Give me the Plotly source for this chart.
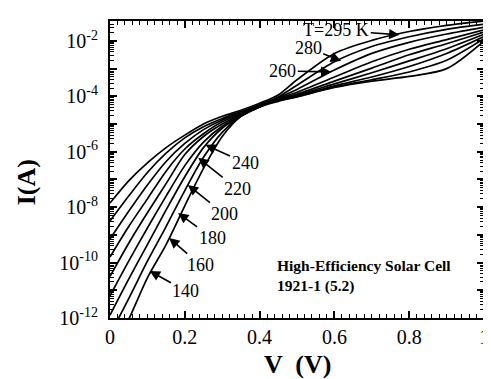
import plotly.graph_objects as go

# ---- data ----
V_GRID = [0, 0.05, 0.1, 0.15, 0.2, 0.25, 0.3, 0.35, 0.4, 0.45, 0.5, 0.6, 0.7, 0.8, 0.9, 1.0]

temperatures_K = [295, 280, 260, 240, 220, 200, 180, 160, 140]

log10_I_295K = [-7.85, -7.05, -6.4, -5.85, -5.4, -5.0, -4.72, -4.5, -4.25, -3.95, -3.4, -2.45, -1.98, -1.66, -1.44, -1.28]
log10_I_280K = [-8.5, -7.6, -6.75, -6.05, -5.5, -5.1, -4.8, -4.55, -4.3, -4.02, -3.6, -2.75, -2.2, -1.85, -1.58, -1.4]
log10_I_260K = [-9.15, -8.15, -7.2, -6.35, -5.7, -5.2, -4.85, -4.6, -4.32, -4.05, -3.75, -3.05, -2.45, -2.05, -1.75, -1.5]
log10_I_240K = [-9.8, -8.7, -7.7, -6.7, -5.9, -5.35, -4.92, -4.63, -4.34, -4.08, -3.85, -3.3, -2.75, -2.3, -1.95, -1.6]
log10_I_220K = [-10.5, -9.3, -8.2, -7.15, -6.1, -5.45, -5.0, -4.66, -4.36, -4.1, -3.92, -3.45, -2.98, -2.5, -2.1, -1.68]
log10_I_200K = [-11.2, -9.95, -8.75, -7.6, -6.5, -5.65, -5.08, -4.7, -4.37, -4.12, -3.96, -3.55, -3.15, -2.72, -2.28, -1.76]
log10_I_180K = [-11.9, -10.6, -9.35, -8.1, -6.9, -5.85, -5.15, -4.72, -4.38, -4.14, -3.99, -3.62, -3.3, -2.92, -2.45, -1.84]
log10_I_160K = [-12.6, -11.3, -9.95, -8.7, -7.4, -6.2, -5.3, -4.72, -4.38, -4.16, -4.01, -3.66, -3.4, -3.12, -2.7, -1.92]
log10_I_140K = [-13.4, -12.05, -10.55, -9.35, -7.95, -6.6, -5.45, -4.72, -4.38, -4.18, -4.02, -3.68, -3.45, -3.28, -3.0, -2.0]

curves = [log10_I_295K, log10_I_280K, log10_I_260K, log10_I_240K, log10_I_220K,
          log10_I_200K, log10_I_180K, log10_I_160K, log10_I_140K]

x_tick_vals = [0, 0.1, 0.2, 0.3, 0.4, 0.5, 0.6, 0.7, 0.8, 0.9, 1.0]
x_tick_text = ["0", "", "0.2", "", "0.4", "", "0.6", "", "0.8", "", "1"]
y_tick_exps = [-12, -11, -10, -9, -8, -7, -6, -5, -4, -3, -2, -1]
y_tick_text = ["10<sup>%d</sup>" % e if e % 2 == 0 else "" for e in y_tick_exps]

# temperature labels: text, label position (V, log10 I), arrow tip (V, log10 I)
label_texts = ["T=295 K", "280", "260", "240", "220", "200", "180", "160", "140"]
label_pos = [(0.605, -1.61), (0.53, -2.25), (0.462, -3.08), (0.361, -6.40), (0.34, -7.34),
             (0.306, -8.25), (0.273, -9.11), (0.242, -10.09), (0.203, -11.03)]
arrow_tip = [(0.774, -1.78), (0.618, -2.72), (0.592, -3.12), (0.255, -5.75), (0.236, -6.22),
             (0.208, -7.20), (0.182, -8.21), (0.158, -9.11), (0.106, -10.30)]

SERIF = "Liberation Serif"

fig = go.Figure()
for T, ys in zip(temperatures_K, curves):
    fig.add_trace(go.Scatter(
        x=V_GRID, y=[10 ** v for v in ys], mode="lines", name=f"{T} K",
        line=dict(color="black", width=1.7, shape="spline", smoothing=0.8),
        showlegend=False,
    ))

annotations = []
for txt, (lx, ly), (tx, ty) in zip(label_texts, label_pos, arrow_tip):
    annotations.append(dict(
        x=tx, y=ty, ax=lx, ay=ly, xref="x", yref="y", axref="x", ayref="y",
        text=txt, showarrow=True, arrowhead=2, arrowsize=1.3, arrowwidth=1.6,
        arrowcolor="black", font=dict(family=SERIF, size=18, color="black"),
    ))

annotations.append(dict(
    x=0.44, y=-10.5, xref="x", yref="y", xanchor="left", yanchor="middle",
    text="<b>High-Efficiency Solar Cell</b><br><b>1921-1 (5.2)</b>", align="left",
    showarrow=False, font=dict(family=SERIF, size=15.5, color="black"),
))
annotations.append(dict(
    x=0.5, y=-0.155, xref="paper", yref="paper", xanchor="center", yanchor="middle",
    text="<b>V  (V)</b>", showarrow=False, font=dict(family=SERIF, size=26, color="black"),
))
annotations.append(dict(
    x=-0.221, y=0.458, xref="paper", yref="paper", xanchor="center", yanchor="middle",
    text="<b>I(A)</b>", textangle=-90, showarrow=False,
    font=dict(family=SERIF, size=26, color="black"),
))

x_minor = [round(i * 0.02, 2) for i in range(51)]
y_minor = [m * 10 ** e for e in range(-12, -1) for m in range(2, 10)]

fig.update_layout(
    width=491, height=379,
    margin=dict(l=102, r=10, t=13, b=69),
    paper_bgcolor="white", plot_bgcolor="white",
    annotations=annotations,
    font=dict(family=SERIF, color="black"),
    xaxis=dict(
        range=[0, 1], showgrid=False, zeroline=False,
        showline=True, linecolor="black", linewidth=2, mirror="allticks",
        ticks="inside", ticklen=7, tickwidth=1.5, tickcolor="black",
        tickvals=x_tick_vals, ticktext=x_tick_text,
        tickfont=dict(family=SERIF, size=20, color="black"),
        minor=dict(tickvals=x_minor, ticks="inside", ticklen=4, tickwidth=1, tickcolor="black"),
    ),
    yaxis=dict(
        type="log", range=[-12, -1.28], showgrid=False, zeroline=False,
        showline=True, linecolor="black", linewidth=2, mirror="allticks",
        ticks="inside", ticklen=7, tickwidth=1.5, tickcolor="black",
        tickvals=[10 ** e for e in y_tick_exps], ticktext=y_tick_text,
        tickfont=dict(family=SERIF, size=20, color="black"),
        ticklabelstandoff=6,
        minor=dict(tickvals=y_minor, ticks="inside", ticklen=4, tickwidth=1, tickcolor="black"),
    ),
)

fig.write_html("out.html")
